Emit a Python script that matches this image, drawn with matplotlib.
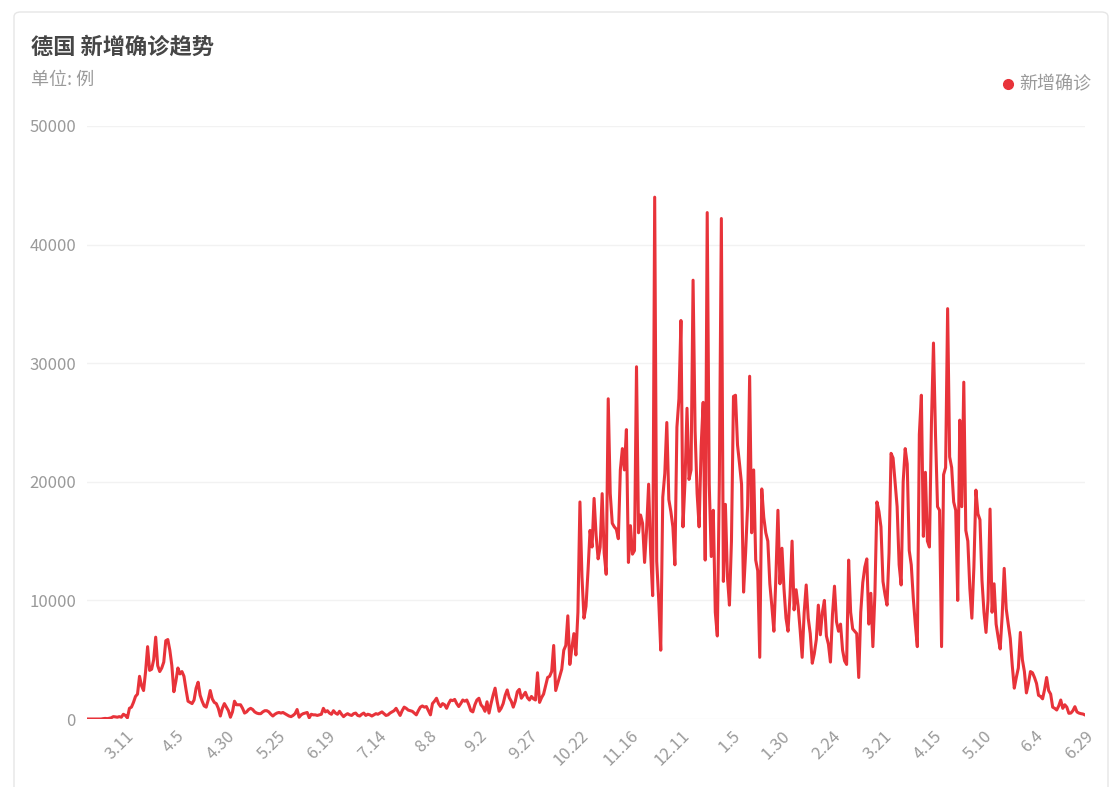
import pandas as pd
import matplotlib
matplotlib.use('Agg')
import matplotlib.pyplot as plt
from matplotlib.patches import FancyBboxPatch
from matplotlib.lines import Line2D

plt.rcParams['font.family'] = ['Noto Sans CJK SC', 'DejaVu Sans']

# 数据: 德国每日新增确诊 (2020-02-21 起, 每天一个值)
start_date = '2020-02-21'
first_tick = '2020-03-11'
tick_step_days = 25
y_ticks = [0, 10000, 20000, 30000, 40000, 50000]

new_cases = [
    0, 0, 0, 0, 0, 0, 0, 0, 30, 50,
    30, 60, 100, 200, 180, 150, 200, 150, 400, 300,
    100, 900, 1000, 1400, 1900, 2100, 3600, 2800, 2400, 4000,
    6100, 4100, 4200, 5000, 6900, 4500, 4000, 4300, 4800, 6600,
    6700, 5800, 4500, 2300, 3200, 4300, 3800, 4000, 3600, 2500,
    1500, 1400, 1300, 1600, 2600, 3100, 2000, 1500, 1100, 1000,
    1600, 2400, 1700, 1400, 1300, 900, 250, 900, 1300, 1000,
    700, 150, 600, 1500, 1200, 1200, 1200, 900, 500, 600,
    800, 900, 800, 600, 500, 450, 450, 600, 700, 700,
    600, 400, 250, 400, 500, 550, 500, 550, 450, 350,
    250, 200, 300, 450, 800, 150, 350, 450, 500, 550,
    100, 400, 350, 350, 300, 350, 400, 900, 600, 700,
    500, 400, 700, 500, 400, 650, 400, 200, 350, 450,
    350, 300, 450, 500, 300, 250, 400, 500, 300, 400,
    350, 250, 350, 450, 400, 500, 600, 450, 300, 350,
    500, 600, 700, 900, 600, 300, 700, 1000, 900, 750,
    700, 650, 500, 350, 700, 1000, 1100, 1000, 1050, 700,
    350, 1300, 1500, 1750, 1300, 1050, 1300, 1200, 900, 1300,
    1600, 1550, 1650, 1300, 1050, 1300, 1600, 1500, 1600, 1200,
    700, 600, 1200, 1600, 1750, 1200, 1000, 650, 1450, 500,
    1300, 2000, 2600, 1500, 650, 900, 1300, 2000, 2450, 1800,
    1500, 1000, 1500, 2300, 2500, 1750, 2000, 2250, 1800, 1600,
    1900, 1700, 1600, 3900, 1400, 1800, 2100, 2800, 3500, 3600,
    4000, 6200, 2400, 3000, 3600, 4200, 5800, 6200, 8700, 4600,
    6000, 7200, 5400, 9000, 18300, 12000, 8500, 9500, 12500, 15900,
    14500, 18600, 15500, 13500, 14500, 19000, 14000, 12200, 27000, 19000,
    16500, 16200, 16000, 15200, 21000, 22800, 21000, 24400, 13200, 16300,
    13900, 14200, 29700, 15700, 17200, 16500, 13200, 16000, 19800, 14000,
    10400, 44000, 13300, 10000, 5800, 18700, 20700, 25000, 18500, 17500,
    16200, 13000, 24600, 27000, 33600, 16200, 20000, 26200, 20200, 21000,
    37000, 24300, 19000, 16200, 23000, 26700, 13400, 42700, 19800, 13700,
    17600, 9000, 7000, 20000, 42200, 11600, 18100, 12000, 9600, 15000,
    27200, 27300, 23100, 21500, 19800, 10700, 14000, 18000, 28900, 15700,
    21000, 13400, 12500, 5200, 19400, 17000, 15700, 15000, 11400, 9500,
    7400, 12000, 17600, 11400, 14400, 11000, 8500, 7400, 10500, 15000,
    9200, 10900, 9500, 7500, 5200, 9000, 11300, 8500, 7200, 4700,
    5500, 6700, 9600, 7100, 9000, 10000, 7000, 6300, 4800, 8800,
    11200, 8200, 7400, 8000, 5800, 4900, 4600, 13400, 9000, 7600,
    7400, 7200, 3500, 9000, 11500, 12800, 13500, 8000, 10600, 6100,
    10500, 18300, 17500, 16200, 11600, 10500, 9600, 14000, 22400, 22000,
    20000, 17900, 13000, 11300, 20000, 22800, 21500, 14200, 13000, 10200,
    8000, 6100, 24000, 27300, 15400, 20800, 15000, 14500, 25000, 31700,
    24000, 17900, 17600, 6100, 20600, 21200, 34600, 22100, 21200, 18300,
    17600, 10000, 25200, 17900, 28400, 15900, 15000, 11000, 8500, 12800,
    19300, 17300, 16800, 11700, 9000, 7300, 10000, 17700, 9000, 11400,
    8000, 6900, 5900, 8700, 12700, 9300, 8000, 6800, 4500, 2600,
    3500, 4300, 7300, 5000, 4000, 2200, 3000, 4000, 3900, 3500,
    3000, 2000, 1900, 1700, 2500, 3500, 2400, 2100, 1000, 900,
    760, 1100, 1600, 900, 1200, 1000, 480, 500, 700, 1040,
    600, 500, 450, 420, 340,
]

dates = pd.date_range(start_date, periods=len(new_cases), freq='D')
tick_dates = pd.date_range(first_tick, dates[-1], freq=f'{tick_step_days}D')
tick_labels = [f'{d.month}.{d.day}' for d in tick_dates]

W, H = 1117, 787
fig = plt.figure(figsize=(W / 100, H / 100), dpi=100)

# 卡片边框 (放在坐标轴下面)
card = FancyBboxPatch((14 / W, -0.05), (1108 - 14) / W, (787 - 12) / H + 0.05,
                      boxstyle='round,pad=0,rounding_size=0.006',
                      transform=fig.transFigure, facecolor='white',
                      edgecolor='#e6e6e6', lw=1, zorder=-10)
fig.patches.append(card)

ax = fig.add_axes([87 / W, 1 - 719 / H, (1085 - 87) / W, (719 - 126) / H])
ax.set_zorder(1)
ax.patch.set_alpha(0)
ax.plot(dates, new_cases, color='#e8333a', lw=2.2, solid_joinstyle='round')
ax.set_xlim(dates[0], dates[-1])
ax.set_ylim(0, 50000)
ax.set_yticks(y_ticks)
ax.set_yticklabels([str(v) for v in y_ticks])
ax.set_xticks(tick_dates)
ax.set_xticklabels(tick_labels, rotation=45, ha='right', va='top',
                   rotation_mode='anchor')
ax.grid(axis='y', color='#f2f2f2', lw=1)
ax.set_axisbelow(True)
for s in ax.spines.values():
    s.set_visible(False)
ax.tick_params(length=0, colors='#9a9a9a', labelsize=12)
ax.tick_params(axis='y', pad=8)
ax.tick_params(axis='x', pad=6)

# 标题
fig.text(31 / W, 1 - 47 / H, '德国 新增确诊趋势', fontsize=16, fontweight='bold',
         color='#464646', va='center')
fig.text(31 / W, 1 - 80 / H, '单位: 例', fontsize=13, color='#9a9a9a', va='center')

# 图例
fig.add_artist(Line2D([1008 / W], [1 - 84 / H], marker='o', markersize=7,
                      color='#e8333a', transform=fig.transFigure))
fig.text(1019 / W, 1 - 84 / H, '新增确诊', fontsize=13, color='#9a9a9a', va='center')

fig.savefig('out.png', dpi=100, facecolor='white')
